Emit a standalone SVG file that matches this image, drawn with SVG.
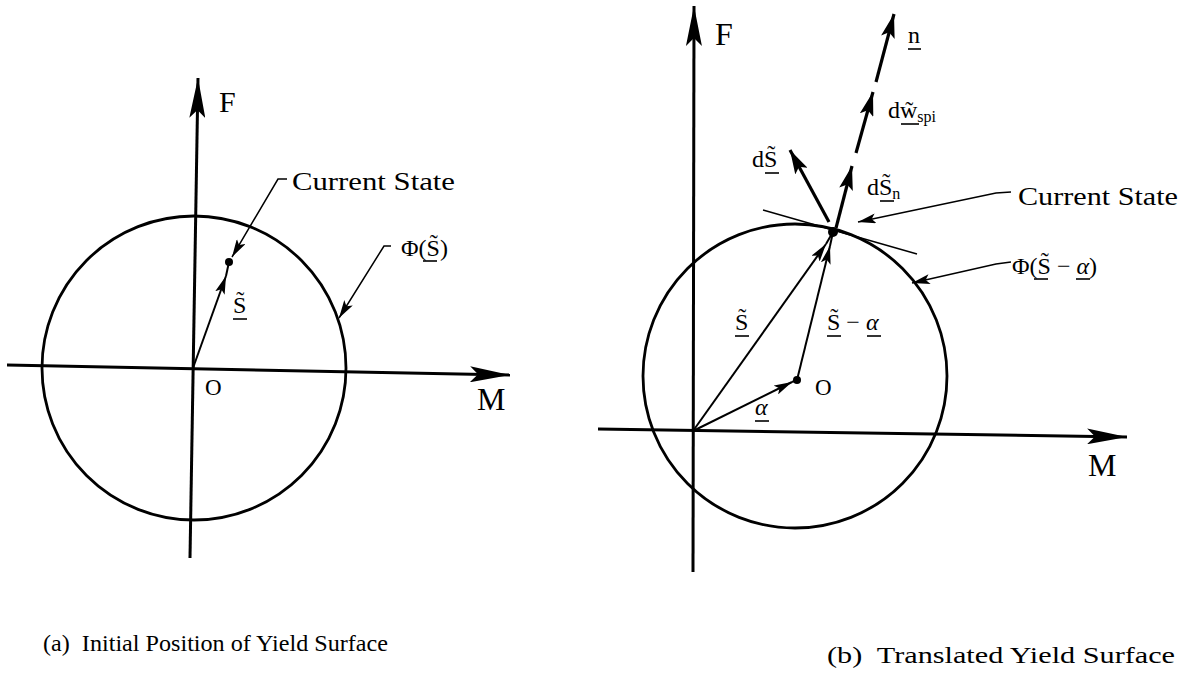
<svg xmlns="http://www.w3.org/2000/svg" width="1194" height="675" viewBox="0 0 1194 675">
<style>
text{font-family:"Liberation Serif","Times New Roman",serif;fill:#000}
.ax{stroke:#000;stroke-width:3;fill:none}
.cir{stroke:#000;stroke-width:2.8;fill:none}
.vec{stroke:#000;stroke-width:2;fill:none}
.thk{stroke:#000;stroke-width:3.2;fill:none}
.ldr{stroke:#000;stroke-width:1.5;fill:none}
.ul{stroke:#000;stroke-width:1.6}
</style>
<defs>
<marker id="axh" viewBox="0 0 40 16" refX="40" refY="8" markerWidth="40" markerHeight="16" markerUnits="userSpaceOnUse" orient="auto"><path d="M0,0 L40,8 L0,16 L8,8 z" fill="#000"/></marker>
<marker id="sh" viewBox="0 0 18 10" refX="18" refY="5" markerWidth="18" markerHeight="10" markerUnits="userSpaceOnUse" orient="auto"><path d="M0,0 L18,5 L0,10 L4,5 z" fill="#000"/></marker>
<marker id="bh" viewBox="0 0 24 14" refX="24" refY="7" markerWidth="24" markerHeight="14" markerUnits="userSpaceOnUse" orient="auto"><path d="M0,0 L24,7 L0,14 L5,7 z" fill="#000"/></marker>
</defs>

<g id="diagram-a">
  <g id="a-circle"><circle class="cir" cx="194" cy="368" r="152"/></g>
  <g id="a-axes">
    <line class="ax" x1="190" y1="558" x2="198" y2="78" marker-end="url(#axh)"/>
    <line class="ax" x1="7" y1="365" x2="510" y2="375" marker-end="url(#axh)"/>
    <text x="219" y="112" font-size="30">F</text>
    <text x="477" y="410" font-size="32">M</text>
    <text x="205" y="395" font-size="23">O</text>
  </g>
  <g id="a-state">
    <circle cx="229" cy="262" r="4" fill="#000"/>
    <text x="292" y="190" font-size="26" textLength="163" lengthAdjust="spacingAndGlyphs">Current State</text>
    <text x="401" y="256" font-size="24">Φ(S&#x303;)</text>
    <line class="ul" x1="423" y1="261" x2="437" y2="261"/>
    <text x="233" y="313" font-size="24">S&#x303;</text>
    <line class="ul" x1="233" y1="319" x2="247" y2="319"/>
  </g>
  <g id="a-connectors">
    <line class="vec" x1="193" y1="368" x2="226" y2="276" marker-end="url(#sh)"/>
    <line class="vec" x1="226" y1="276" x2="229" y2="262"/>
    <polyline class="ldr" points="287,179 278,179 232,257" marker-end="url(#sh)"/>
    <polyline class="ldr" points="391,246 384,246 339,318" marker-end="url(#sh)"/>
  </g>
</g>

<g id="diagram-b">
  <g id="b-circle"><circle class="cir" cx="795" cy="376" r="152"/></g>
  <g id="b-axes">
    <line class="ax" x1="693" y1="572" x2="694" y2="6" marker-end="url(#axh)"/>
    <line class="ax" x1="598" y1="429" x2="1127" y2="437" marker-end="url(#axh)"/>
    <text x="715" y="45" font-size="32">F</text>
    <text x="1088" y="476" font-size="32">M</text>
    <text x="815" y="395" font-size="23">O</text>
  </g>
  <g id="b-points">
    <circle cx="797" cy="380" r="4" fill="#000"/>
    <circle cx="833" cy="232" r="5" fill="#000"/>
  </g>
  <g id="b-connectors">
    <line class="vec" x1="693" y1="431" x2="792" y2="382" marker-end="url(#sh)"/>
    <line class="vec" x1="792" y1="382" x2="797" y2="380"/>
    <line class="vec" x1="693" y1="431" x2="826" y2="244" marker-end="url(#sh)"/>
    <line class="vec" x1="826" y1="244" x2="833" y2="232"/>
    <line class="vec" x1="797" y1="380" x2="830" y2="246" marker-end="url(#sh)"/>
    <line class="vec" x1="830" y1="246" x2="833" y2="232"/>
    <line class="ldr" x1="763" y1="210" x2="917" y2="254"/>
    <line class="thk" x1="829" y1="222" x2="790" y2="150" marker-end="url(#bh)"/>
    <line class="thk" x1="836" y1="228" x2="852" y2="166" marker-end="url(#bh)"/>
    <line class="thk" x1="856" y1="153" x2="873" y2="92" marker-end="url(#bh)"/>
    <line class="thk" x1="876" y1="82" x2="894" y2="14" marker-end="url(#bh)"/>
    <polyline class="ldr" points="1011,192 996,193 858,222" marker-end="url(#sh)"/>
    <polyline class="ldr" points="1011,262 996,264 912,283" marker-end="url(#sh)"/>
  </g>
  <g id="b-labels">
    <text x="908" y="43" font-size="24">n</text>
    <line class="ul" x1="908" y1="49" x2="921" y2="49"/>
    <text x="888" y="118" font-size="24">dw&#x303;<tspan font-size="16" dy="4">spi</tspan></text>
    <line class="ul" x1="901" y1="124" x2="919" y2="124"/>
    <text x="752" y="167" font-size="24">dS&#x303;</text>
    <line class="ul" x1="765" y1="173" x2="779" y2="173"/>
    <text x="867" y="195" font-size="24">dS&#x303;<tspan font-size="16" dy="4">n</tspan></text>
    <line class="ul" x1="880" y1="201" x2="894" y2="201"/>
    <text x="1018" y="205" font-size="26" textLength="160" lengthAdjust="spacingAndGlyphs">Current State</text>
    <text x="1012" y="274" font-size="24" xml:space="preserve">Φ(S&#x303; − <tspan font-style="italic">α</tspan>)</text>
    <line class="ul" x1="1034" y1="279" x2="1048" y2="279"/>
    <line class="ul" x1="1076" y1="279" x2="1090" y2="279"/>
    <text x="735" y="330" font-size="24">S&#x303;</text>
    <line class="ul" x1="735" y1="336" x2="749" y2="336"/>
    <text x="827" y="330" font-size="24" xml:space="preserve">S&#x303; − <tspan font-style="italic">α</tspan></text>
    <line class="ul" x1="827" y1="336" x2="841" y2="336"/>
    <line class="ul" x1="867" y1="336" x2="881" y2="336"/>
    <text x="755" y="415" font-size="24" font-style="italic">α</text>
    <line class="ul" x1="755" y1="421" x2="769" y2="421"/>
  </g>
</g>

<g id="captions">
  <text x="43" y="651" font-size="24" textLength="345" lengthAdjust="spacingAndGlyphs" xml:space="preserve">(a)  Initial Position of Yield Surface</text>
  <text x="827" y="663" font-size="24" textLength="348" lengthAdjust="spacingAndGlyphs" xml:space="preserve">(b)  Translated Yield Surface</text>
</g>
</svg>
